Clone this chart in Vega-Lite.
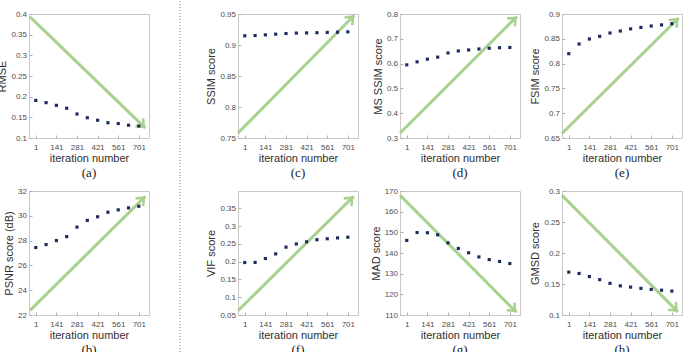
{
  "$schema": "https://vega.github.io/schema/vega-lite/v6.json",
  "background": "white",
  "padding": {"left": -4, "top": 0, "right": 0, "bottom": 0},
  "datasets": {
    "scores": [
      {"panel": "a", "iteration": 1, "value": 0.191}, {"panel": "a", "iteration": 71, "value": 0.1855}, {"panel": "a", "iteration": 141, "value": 0.179}, {"panel": "a", "iteration": 211, "value": 0.172}, {"panel": "a", "iteration": 281, "value": 0.158}, {"panel": "a", "iteration": 351, "value": 0.149}, {"panel": "a", "iteration": 421, "value": 0.143}, {"panel": "a", "iteration": 491, "value": 0.137}, {"panel": "a", "iteration": 561, "value": 0.135}, {"panel": "a", "iteration": 631, "value": 0.131}, {"panel": "a", "iteration": 701, "value": 0.129},
      {"panel": "b", "iteration": 1, "value": 27.44}, {"panel": "b", "iteration": 71, "value": 27.68}, {"panel": "b", "iteration": 141, "value": 28.0}, {"panel": "b", "iteration": 211, "value": 28.32}, {"panel": "b", "iteration": 281, "value": 29.09}, {"panel": "b", "iteration": 351, "value": 29.63}, {"panel": "b", "iteration": 421, "value": 29.92}, {"panel": "b", "iteration": 491, "value": 30.29}, {"panel": "b", "iteration": 561, "value": 30.48}, {"panel": "b", "iteration": 631, "value": 30.64}, {"panel": "b", "iteration": 701, "value": 30.77},
      {"panel": "c", "iteration": 1, "value": 0.9148}, {"panel": "c", "iteration": 71, "value": 0.9152}, {"panel": "c", "iteration": 141, "value": 0.9163}, {"panel": "c", "iteration": 211, "value": 0.9175}, {"panel": "c", "iteration": 281, "value": 0.9185}, {"panel": "c", "iteration": 351, "value": 0.9192}, {"panel": "c", "iteration": 421, "value": 0.9195}, {"panel": "c", "iteration": 491, "value": 0.9198}, {"panel": "c", "iteration": 561, "value": 0.9203}, {"panel": "c", "iteration": 631, "value": 0.9207}, {"panel": "c", "iteration": 701, "value": 0.9212},
      {"panel": "d", "iteration": 1, "value": 0.595}, {"panel": "d", "iteration": 71, "value": 0.607}, {"panel": "d", "iteration": 141, "value": 0.618}, {"panel": "d", "iteration": 211, "value": 0.626}, {"panel": "d", "iteration": 281, "value": 0.643}, {"panel": "d", "iteration": 351, "value": 0.651}, {"panel": "d", "iteration": 421, "value": 0.655}, {"panel": "d", "iteration": 491, "value": 0.659}, {"panel": "d", "iteration": 561, "value": 0.662}, {"panel": "d", "iteration": 631, "value": 0.664}, {"panel": "d", "iteration": 701, "value": 0.665},
      {"panel": "e", "iteration": 1, "value": 0.82}, {"panel": "e", "iteration": 71, "value": 0.8395}, {"panel": "e", "iteration": 141, "value": 0.8496}, {"panel": "e", "iteration": 211, "value": 0.855}, {"panel": "e", "iteration": 281, "value": 0.8617}, {"panel": "e", "iteration": 351, "value": 0.8657}, {"panel": "e", "iteration": 421, "value": 0.87}, {"panel": "e", "iteration": 491, "value": 0.873}, {"panel": "e", "iteration": 561, "value": 0.8758}, {"panel": "e", "iteration": 631, "value": 0.878}, {"panel": "e", "iteration": 701, "value": 0.8805},
      {"panel": "f", "iteration": 1, "value": 0.1977}, {"panel": "f", "iteration": 71, "value": 0.198}, {"panel": "f", "iteration": 141, "value": 0.209}, {"panel": "f", "iteration": 211, "value": 0.222}, {"panel": "f", "iteration": 281, "value": 0.241}, {"panel": "f", "iteration": 351, "value": 0.25}, {"panel": "f", "iteration": 421, "value": 0.256}, {"panel": "f", "iteration": 491, "value": 0.262}, {"panel": "f", "iteration": 561, "value": 0.2646}, {"panel": "f", "iteration": 631, "value": 0.267}, {"panel": "f", "iteration": 701, "value": 0.269},
      {"panel": "g", "iteration": 1, "value": 146.1}, {"panel": "g", "iteration": 71, "value": 149.9}, {"panel": "g", "iteration": 141, "value": 149.8}, {"panel": "g", "iteration": 211, "value": 148.8}, {"panel": "g", "iteration": 281, "value": 144.9}, {"panel": "g", "iteration": 351, "value": 142.2}, {"panel": "g", "iteration": 421, "value": 140.1}, {"panel": "g", "iteration": 491, "value": 138.1}, {"panel": "g", "iteration": 561, "value": 136.8}, {"panel": "g", "iteration": 631, "value": 135.9}, {"panel": "g", "iteration": 701, "value": 134.9},
      {"panel": "h", "iteration": 1, "value": 0.1692}, {"panel": "h", "iteration": 71, "value": 0.167}, {"panel": "h", "iteration": 141, "value": 0.162}, {"panel": "h", "iteration": 211, "value": 0.157}, {"panel": "h", "iteration": 281, "value": 0.151}, {"panel": "h", "iteration": 351, "value": 0.147}, {"panel": "h", "iteration": 421, "value": 0.145}, {"panel": "h", "iteration": 491, "value": 0.143}, {"panel": "h", "iteration": 561, "value": 0.1413}, {"panel": "h", "iteration": 631, "value": 0.14}, {"panel": "h", "iteration": 701, "value": 0.1386}
    ],
    "arrows": [
      {"panel": "a", "x_start": -38, "y_start": 0.393, "x_end": 745, "y_end": 0.124},
      {"panel": "b", "x_start": -38, "y_start": 22.37, "x_end": 745, "y_end": 31.57},
      {"panel": "c", "x_start": -45, "y_start": 0.758, "x_end": 745, "y_end": 0.948},
      {"panel": "d", "x_start": -44, "y_start": 0.32, "x_end": 749, "y_end": 0.79},
      {"panel": "e", "x_start": -45, "y_start": 0.659, "x_end": 747, "y_end": 0.892},
      {"panel": "f", "x_start": -45, "y_start": 0.062, "x_end": 740, "y_end": 0.384},
      {"panel": "g", "x_start": -44, "y_start": 167.9, "x_end": 746, "y_end": 111.3},
      {"panel": "h", "x_start": -45, "y_start": 0.293, "x_end": 742, "y_end": 0.105}
    ]
  },
  "config": {
    "font": "Liberation Sans",
    "view": {"stroke": "#c9c9c9", "strokeWidth": 1},
    "axis": {"domain": false, "grid": false, "tickSize": -3, "tickColor": "#b0b0b0", "tickWidth": 1, "labelOverlap": false, "labelFont": "Liberation Sans", "labelFontSize": 8, "labelColor": "#4d4d4d", "titleFont": "Liberation Sans", "titleFontSize": 11, "titleFontWeight": "normal", "titleColor": "#303030"},
    "axisX": {"labelPadding": 8, "titlePadding": 1},
    "axisY": {"labelPadding": 5.5, "titlePadding": 3},
    "title": {"font": "Liberation Serif", "fontSize": 13, "fontWeight": "normal", "orient": "bottom", "offset": 0, "color": "#1a1a1a"}
  },
  "columns": 5,
  "spacing": {"row": 53, "column": 42},
  "bounds": "flush",
  "align": "each",
  "concat": [
    {
      "width": 120, "height": 124, "title": "(a)",
      "layer": [
        {"data": {"name": "arrows"}, "transform": [{"filter": "datum.panel === 'a'"}], "mark": {"type": "rule", "color": "#a9d18e", "strokeWidth": 3},
         "encoding": {"x": {"field": "x_start", "type": "quantitative", "scale": {"domain": [-45, 770], "nice": false, "zero": false}, "axis": {"title": "iteration number", "values": [1, 141, 281, 421, 561, 701], "tickCount": 20, "format": ".6~g", "labelOverlap": false}},
                      "y": {"field": "y_start", "type": "quantitative", "scale": {"domain": [0.1, 0.4], "nice": false, "zero": false}, "axis": {"title": "RMSE", "values": [0.1, 0.15, 0.2, 0.25, 0.3, 0.35, 0.4], "tickCount": 20, "format": ".6~g", "labelOverlap": false}},
                      "x2": {"field": "x_end"}, "y2": {"field": "y_end"}}},
        {"data": {"name": "arrows"}, "transform": [{"filter": "datum.panel === 'a'"}], "mark": {"type": "point", "shape": "M0,0L1.1,1.3L0.75,1.55L0,0.65L-0.75,1.55L-1.1,1.3Z", "filled": true, "color": "#a9d18e", "opacity": 1, "size": 140, "angle": 134.2},
         "encoding": {"x": {"field": "x_end", "type": "quantitative"}, "y": {"field": "y_end", "type": "quantitative"}}},
        {"data": {"name": "scores"}, "transform": [{"filter": "datum.panel === 'a'"}], "mark": {"type": "square", "color": "#1c2a5c", "size": 10, "opacity": 1},
         "encoding": {"x": {"field": "iteration", "type": "quantitative"}, "y": {"field": "value", "type": "quantitative"}}}
      ]
    },
    {
      "width": 5, "height": 124,
      "view": {"stroke": null},
      "data": {"values": [{}]},
      "mark": {"type": "rule", "color": "#8c8c8c", "strokeDash": [1, 2], "strokeWidth": 1},
      "encoding": {
        "x": {"datum": -2.2, "type": "quantitative", "scale": {"domain": [0, 1], "nice": false, "zero": false}, "axis": null},
        "y": {"datum": 1.1048, "type": "quantitative", "scale": {"domain": [0, 1], "nice": false, "zero": false}, "axis": null},
        "y2": {"datum": -0.3185}
      }
    },
    {
      "width": 120, "height": 124, "title": "(c)",
      "layer": [
        {"data": {"name": "arrows"}, "transform": [{"filter": "datum.panel === 'c'"}], "mark": {"type": "rule", "color": "#a9d18e", "strokeWidth": 3},
         "encoding": {"x": {"field": "x_start", "type": "quantitative", "scale": {"domain": [-45, 770], "nice": false, "zero": false}, "axis": {"title": "iteration number", "values": [1, 141, 281, 421, 561, 701], "tickCount": 20, "format": ".6~g", "labelOverlap": false}},
                      "y": {"field": "y_start", "type": "quantitative", "scale": {"domain": [0.75, 0.95], "nice": false, "zero": false}, "axis": {"title": "SSIM score", "values": [0.75, 0.8, 0.85, 0.9, 0.95], "tickCount": 20, "format": ".6~g", "labelOverlap": false}},
                      "x2": {"field": "x_end"}, "y2": {"field": "y_end"}}},
        {"data": {"name": "arrows"}, "transform": [{"filter": "datum.panel === 'c'"}], "mark": {"type": "point", "shape": "M0,0L1.1,1.3L0.75,1.55L0,0.65L-0.75,1.55L-1.1,1.3Z", "filled": true, "color": "#a9d18e", "opacity": 1, "size": 140, "angle": 44.6},
         "encoding": {"x": {"field": "x_end", "type": "quantitative"}, "y": {"field": "y_end", "type": "quantitative"}}},
        {"data": {"name": "scores"}, "transform": [{"filter": "datum.panel === 'c'"}], "mark": {"type": "square", "color": "#1c2a5c", "size": 10, "opacity": 1},
         "encoding": {"x": {"field": "iteration", "type": "quantitative"}, "y": {"field": "value", "type": "quantitative"}}}
      ]
    },
    {
      "width": 120, "height": 124, "title": "(d)",
      "layer": [
        {"data": {"name": "arrows"}, "transform": [{"filter": "datum.panel === 'd'"}], "mark": {"type": "rule", "color": "#a9d18e", "strokeWidth": 3},
         "encoding": {"x": {"field": "x_start", "type": "quantitative", "scale": {"domain": [-45, 770], "nice": false, "zero": false}, "axis": {"title": "iteration number", "values": [1, 141, 281, 421, 561, 701], "tickCount": 20, "format": ".6~g", "labelOverlap": false}},
                      "y": {"field": "y_start", "type": "quantitative", "scale": {"domain": [0.3, 0.8], "nice": false, "zero": false}, "axis": {"title": "MS SSIM score", "values": [0.3, 0.4, 0.5, 0.6, 0.7, 0.8], "tickCount": 20, "format": ".6~g", "labelOverlap": false}},
                      "x2": {"field": "x_end"}, "y2": {"field": "y_end"}}},
        {"data": {"name": "arrows"}, "transform": [{"filter": "datum.panel === 'd'"}], "mark": {"type": "point", "shape": "M0,0L1.1,1.3L0.75,1.55L0,0.65L-0.75,1.55L-1.1,1.3Z", "filled": true, "color": "#a9d18e", "opacity": 1, "size": 140, "angle": 45.1},
         "encoding": {"x": {"field": "x_end", "type": "quantitative"}, "y": {"field": "y_end", "type": "quantitative"}}},
        {"data": {"name": "scores"}, "transform": [{"filter": "datum.panel === 'd'"}], "mark": {"type": "square", "color": "#1c2a5c", "size": 10, "opacity": 1},
         "encoding": {"x": {"field": "iteration", "type": "quantitative"}, "y": {"field": "value", "type": "quantitative"}}}
      ]
    },
    {
      "width": 120, "height": 124, "title": "(e)",
      "layer": [
        {"data": {"name": "arrows"}, "transform": [{"filter": "datum.panel === 'e'"}], "mark": {"type": "rule", "color": "#a9d18e", "strokeWidth": 3},
         "encoding": {"x": {"field": "x_start", "type": "quantitative", "scale": {"domain": [-45, 770], "nice": false, "zero": false}, "axis": {"title": "iteration number", "values": [1, 141, 281, 421, 561, 701], "tickCount": 20, "format": ".6~g", "labelOverlap": false}},
                      "y": {"field": "y_start", "type": "quantitative", "scale": {"domain": [0.65, 0.9], "nice": false, "zero": false}, "axis": {"title": "FSIM score", "values": [0.65, 0.7, 0.75, 0.8, 0.85, 0.9], "tickCount": 20, "format": ".6~g", "labelOverlap": false}},
                      "x2": {"field": "x_end"}, "y2": {"field": "y_end"}}},
        {"data": {"name": "arrows"}, "transform": [{"filter": "datum.panel === 'e'"}], "mark": {"type": "point", "shape": "M0,0L1.1,1.3L0.75,1.55L0,0.65L-0.75,1.55L-1.1,1.3Z", "filled": true, "color": "#a9d18e", "opacity": 1, "size": 140, "angle": 45.2},
         "encoding": {"x": {"field": "x_end", "type": "quantitative"}, "y": {"field": "y_end", "type": "quantitative"}}},
        {"data": {"name": "scores"}, "transform": [{"filter": "datum.panel === 'e'"}], "mark": {"type": "square", "color": "#1c2a5c", "size": 10, "opacity": 1},
         "encoding": {"x": {"field": "iteration", "type": "quantitative"}, "y": {"field": "value", "type": "quantitative"}}}
      ]
    },
    {
      "width": 120, "height": 124, "title": "(b)",
      "layer": [
        {"data": {"name": "arrows"}, "transform": [{"filter": "datum.panel === 'b'"}], "mark": {"type": "rule", "color": "#a9d18e", "strokeWidth": 3},
         "encoding": {"x": {"field": "x_start", "type": "quantitative", "scale": {"domain": [-45, 770], "nice": false, "zero": false}, "axis": {"title": "iteration number", "values": [1, 141, 281, 421, 561, 701], "tickCount": 20, "format": ".6~g", "labelOverlap": false}},
                      "y": {"field": "y_start", "type": "quantitative", "scale": {"domain": [22, 32], "nice": false, "zero": false}, "axis": {"title": "PSNR score (dB)", "values": [22, 24, 26, 28, 30, 32], "tickCount": 20, "format": ".6~g", "labelOverlap": false}},
                      "x2": {"field": "x_end"}, "y2": {"field": "y_end"}}},
        {"data": {"name": "arrows"}, "transform": [{"filter": "datum.panel === 'b'"}], "mark": {"type": "point", "shape": "M0,0L1.1,1.3L0.75,1.55L0,0.65L-0.75,1.55L-1.1,1.3Z", "filled": true, "color": "#a9d18e", "opacity": 1, "size": 140, "angle": 45.3},
         "encoding": {"x": {"field": "x_end", "type": "quantitative"}, "y": {"field": "y_end", "type": "quantitative"}}},
        {"data": {"name": "scores"}, "transform": [{"filter": "datum.panel === 'b'"}], "mark": {"type": "square", "color": "#1c2a5c", "size": 10, "opacity": 1},
         "encoding": {"x": {"field": "iteration", "type": "quantitative"}, "y": {"field": "value", "type": "quantitative"}}}
      ]
    },
    {
      "width": 5, "height": 124,
      "view": {"stroke": null},
      "data": {"values": [{}]},
      "mark": {"type": "rule", "color": "#8c8c8c", "strokeDash": [1, 2], "strokeWidth": 1},
      "encoding": {
        "x": {"datum": -2.2, "type": "quantitative", "scale": {"domain": [0, 1], "nice": false, "zero": false}, "axis": null},
        "y": {"datum": 1.1129, "type": "quantitative", "scale": {"domain": [0, 1], "nice": false, "zero": false}, "axis": null},
        "y2": {"datum": -0.3065}
      }
    },
    {
      "width": 120, "height": 124, "title": "(f)",
      "layer": [
        {"data": {"name": "arrows"}, "transform": [{"filter": "datum.panel === 'f'"}], "mark": {"type": "rule", "color": "#a9d18e", "strokeWidth": 3},
         "encoding": {"x": {"field": "x_start", "type": "quantitative", "scale": {"domain": [-45, 770], "nice": false, "zero": false}, "axis": {"title": "iteration number", "values": [1, 141, 281, 421, 561, 701], "tickCount": 20, "format": ".6~g", "labelOverlap": false}},
                      "y": {"field": "y_start", "type": "quantitative", "scale": {"domain": [0.05, 0.399], "nice": false, "zero": false}, "axis": {"title": "VIF score", "values": [0.05, 0.1, 0.15, 0.2, 0.25, 0.3, 0.35], "tickCount": 20, "format": ".6~g", "labelOverlap": false}},
                      "x2": {"field": "x_end"}, "y2": {"field": "y_end"}}},
        {"data": {"name": "arrows"}, "transform": [{"filter": "datum.panel === 'f'"}], "mark": {"type": "point", "shape": "M0,0L1.1,1.3L0.75,1.55L0,0.65L-0.75,1.55L-1.1,1.3Z", "filled": true, "color": "#a9d18e", "opacity": 1, "size": 140, "angle": 45.3},
         "encoding": {"x": {"field": "x_end", "type": "quantitative"}, "y": {"field": "y_end", "type": "quantitative"}}},
        {"data": {"name": "scores"}, "transform": [{"filter": "datum.panel === 'f'"}], "mark": {"type": "square", "color": "#1c2a5c", "size": 10, "opacity": 1},
         "encoding": {"x": {"field": "iteration", "type": "quantitative"}, "y": {"field": "value", "type": "quantitative"}}}
      ]
    },
    {
      "width": 120, "height": 124, "title": "(g)",
      "layer": [
        {"data": {"name": "arrows"}, "transform": [{"filter": "datum.panel === 'g'"}], "mark": {"type": "rule", "color": "#a9d18e", "strokeWidth": 3},
         "encoding": {"x": {"field": "x_start", "type": "quantitative", "scale": {"domain": [-45, 770], "nice": false, "zero": false}, "axis": {"title": "iteration number", "values": [1, 141, 281, 421, 561, 701], "tickCount": 20, "format": ".6~g", "labelOverlap": false}},
                      "y": {"field": "y_start", "type": "quantitative", "scale": {"domain": [110, 170], "nice": false, "zero": false}, "axis": {"title": "MAD score", "values": [110, 120, 130, 140, 150, 160, 170], "tickCount": 20, "format": ".6~g", "labelOverlap": false}},
                      "x2": {"field": "x_end"}, "y2": {"field": "y_end"}}},
        {"data": {"name": "arrows"}, "transform": [{"filter": "datum.panel === 'g'"}], "mark": {"type": "point", "shape": "M0,0L1.1,1.3L0.75,1.55L0,0.65L-0.75,1.55L-1.1,1.3Z", "filled": true, "color": "#a9d18e", "opacity": 1, "size": 140, "angle": 135.2},
         "encoding": {"x": {"field": "x_end", "type": "quantitative"}, "y": {"field": "y_end", "type": "quantitative"}}},
        {"data": {"name": "scores"}, "transform": [{"filter": "datum.panel === 'g'"}], "mark": {"type": "square", "color": "#1c2a5c", "size": 10, "opacity": 1},
         "encoding": {"x": {"field": "iteration", "type": "quantitative"}, "y": {"field": "value", "type": "quantitative"}}}
      ]
    },
    {
      "width": 120, "height": 124, "title": "(h)",
      "layer": [
        {"data": {"name": "arrows"}, "transform": [{"filter": "datum.panel === 'h'"}], "mark": {"type": "rule", "color": "#a9d18e", "strokeWidth": 3},
         "encoding": {"x": {"field": "x_start", "type": "quantitative", "scale": {"domain": [-45, 770], "nice": false, "zero": false}, "axis": {"title": "iteration number", "values": [1, 141, 281, 421, 561, 701], "tickCount": 20, "format": ".6~g", "labelOverlap": false}},
                      "y": {"field": "y_start", "type": "quantitative", "scale": {"domain": [0.1, 0.3], "nice": false, "zero": false}, "axis": {"title": "GMSD score", "values": [0.1, 0.15, 0.2, 0.25, 0.3], "tickCount": 20, "format": ".6~g", "labelOverlap": false}},
                      "x2": {"field": "x_end"}, "y2": {"field": "y_end"}}},
        {"data": {"name": "arrows"}, "transform": [{"filter": "datum.panel === 'h'"}], "mark": {"type": "point", "shape": "M0,0L1.1,1.3L0.75,1.55L0,0.65L-0.75,1.55L-1.1,1.3Z", "filled": true, "color": "#a9d18e", "opacity": 1, "size": 140, "angle": 135.2},
         "encoding": {"x": {"field": "x_end", "type": "quantitative"}, "y": {"field": "y_end", "type": "quantitative"}}},
        {"data": {"name": "scores"}, "transform": [{"filter": "datum.panel === 'h'"}], "mark": {"type": "square", "color": "#1c2a5c", "size": 10, "opacity": 1},
         "encoding": {"x": {"field": "iteration", "type": "quantitative"}, "y": {"field": "value", "type": "quantitative"}}}
      ]
    }
  ]
}
